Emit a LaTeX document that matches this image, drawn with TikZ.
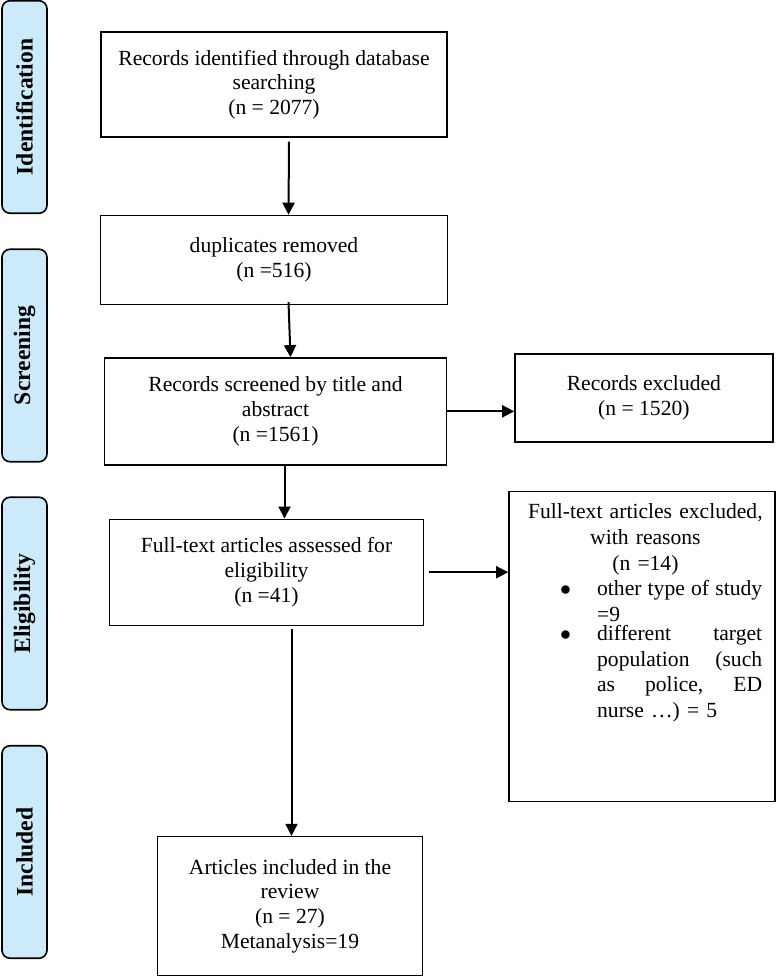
\documentclass[tikz,border=0pt]{standalone}
\usepackage{fontspec}
\setmainfont{Liberation Serif}
\usepackage{tikz}
\usetikzlibrary{positioning, arrows.meta}
\definecolor{phasefill}{RGB}{204,235,250}
\newcommand{\reasonitem}[1]{\par\noindent\hspace*{15.75pt}\makebox[18.5pt][l]{$\bullet$}\parbox[t]{82.5pt}{#1}}

\begin{document}
\begin{tikzpicture}[
    x=0.5pt, y=-0.5pt,
    box/.style={rectangle, draw, line width=0.7pt, align=center, inner sep=0pt, font=\fontsize{10.8}{12.4}\selectfont},
    phase/.style={rectangle, draw, rounded corners=4pt, line width=0.8pt, fill=phasefill, rotate=90, minimum width=106.25pt, minimum height=22.5pt, inner sep=0pt, font=\bfseries\fontsize{11.8}{14}\selectfont},
    reasontext/.style={text width=118pt, align=center, inner sep=0pt, font=\fontsize{10.8}{12.8}\selectfont},
    arrow/.style={-{Triangle[length=6pt, width=6pt]}, line width=1pt}
]
    \useasboundingbox (0,0) rectangle (777,976);
    % stages
    \node[phase] (ident) at (24.5,107) {Identification};
    \node[phase] (screen) at (24.5,355.5) {Screening};
    \node[phase] (elig) at (24.5,603.5) {Eligibility};
    \node[phase] (incl) at (24.5,852) {Included};
    % flow
    \node[box, minimum width=173pt, minimum height=52.5pt] (rec) at (274,84.5) {Records identified through database\\ searching\\ (n = 2077)};
    \node[box, minimum width=173.5pt, minimum height=44.5pt, below=38.5pt of rec] (dup) {duplicates removed\\ (n =516)};
    \node[box, minimum width=171pt, minimum height=53.5pt, below=26pt of dup, xshift=0.75pt] (scr) {Records screened by title and\\ abstract\\ (n =1561)};
    \node[box, minimum width=157pt, minimum height=53pt, below=26.5pt of scr, xshift=-4.5pt] (full) {Full-text articles assessed for\\ eligibility\\ (n =41)};
    \node[box, minimum width=132.5pt, minimum height=69.5pt, below=105pt of full, xshift=11.75pt] (inc) {Articles included in the\\ review\\ (n = 27)\\ Metanalysis=19};
    \node[box, minimum width=129pt, minimum height=44pt, right=33.5pt of scr, yshift=6.75pt] (excl) {Records excluded\\ (n = 1520)};
    \node[box, minimum width=133pt, minimum height=155pt, right=42pt of full, yshift=-37pt] (exfull) {};
    \node[reasontext, below=6.5pt of exfull.north, xshift=1.75pt] (reasons) {\mbox{Full-text articles excluded,}\\ with reasons\\ (n =14)\par
        \reasonitem{other\hfill type\hfill of\hfill study\\ =9}\par\vspace{1pt}
        \reasonitem{different\hfill target\\ population\hfill (such\\ as\hfill police,\hfill ED\\ nurse …) = 5}};
    % arrows
    \draw[arrow] ([xshift=7.5pt, yshift=-2pt]rec.south) -- ([xshift=7.25pt]dup.north);
    \draw[arrow] ([xshift=7.25pt, yshift=1.5pt]dup.south) -- ([xshift=7.5pt]scr.north);
    \draw[arrow] ([xshift=4.5pt]scr.south) -- ([xshift=9pt]full.north);
    \draw[arrow] ([xshift=12.5pt, yshift=-1.5pt]full.south) -- ([xshift=0.75pt]inc.north);
    \draw[arrow] (scr.east) -- (scr.east -| excl.west);
    \draw[arrow] ([xshift=2.5pt]full.east) -- (full.east -| exfull.west);
\end{tikzpicture}
\end{document}
